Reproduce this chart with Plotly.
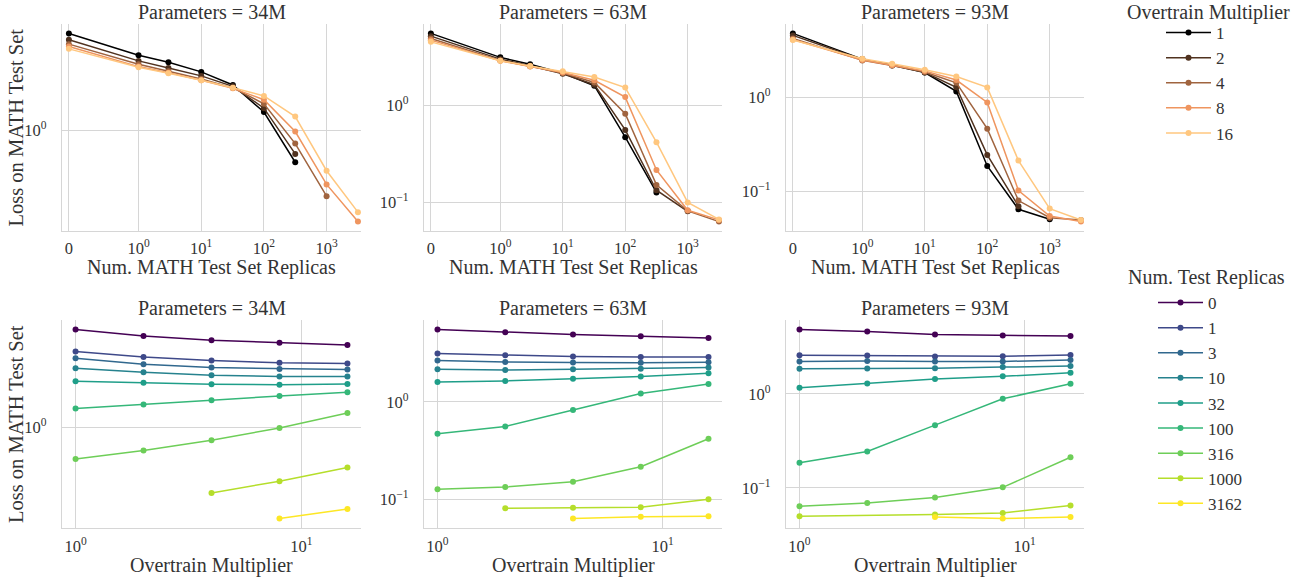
import numpy as np
import plotly.graph_objects as go

# ---------------------------------------------------------------- data
param_labels = ["34M", "63M", "93M"]
overtrain_multipliers = [1, 2, 4, 8, 16]
num_replicas = [0, 1, 3, 10, 32, 100, 316, 1000, 3162]

# loss on the MATH test set; one row per overtrain multiplier,
# one column per number of test-set replicas (None = not run)
loss_34m = [
    [7.30, 4.67, 4.05, 3.32, 2.54, 1.46, 0.522, None, None],
    [6.40, 4.16, 3.60, 3.06, 2.47, 1.58, 0.619, None, None],
    [5.86, 3.88, 3.36, 2.87, 2.39, 1.73, 0.765, 0.261, None],
    [5.58, 3.70, 3.27, 2.80, 2.37, 1.88, 0.980, 0.332, 0.155],
    [5.32, 3.65, 3.23, 2.80, 2.40, 2.03, 1.33, 0.439, 0.188],
]
loss_63m = [
    [5.55, 3.14, 2.66, 2.16, 1.60, 0.471, 0.1265, None, None],
    [5.20, 3.01, 2.57, 2.13, 1.64, 0.559, 0.1332, 0.0807, None],
    [4.92, 2.92, 2.54, 2.16, 1.73, 0.823, 0.1513, 0.0816, 0.0632],
    [4.73, 2.89, 2.52, 2.19, 1.82, 1.22, 0.2158, 0.0826, 0.0658],
    [4.54, 2.90, 2.55, 2.25, 1.97, 1.53, 0.418, 0.0996, 0.0666],
]
loss_93m = [
    [4.86, 2.58, 2.21, 1.855, 1.165, 0.1855, 0.0638, 0.0498, None],
    [4.63, 2.56, 2.24, 1.86, 1.29, 0.2434, 0.0688, None, None],
    [4.30, 2.50, 2.21, 1.88, 1.44, 0.465, 0.0791, 0.0519, 0.0490],
    [4.19, 2.52, 2.22, 1.93, 1.54, 0.887, 0.1012, 0.0541, 0.0471],
    [4.13, 2.60, 2.30, 1.98, 1.68, 1.285, 0.2117, 0.0649, 0.0490],
]
losses = [loss_34m, loss_63m, loss_93m]

replica_ticks = [0, 1, 10, 100, 1000]
replica_tick_text = ["0", "10<sup>0</sup>", "10<sup>1</sup>", "10<sup>2</sup>", "10<sup>3</sup>"]
loss_ticks = [0.01, 0.1, 1, 10]
loss_tick_text = ["10<sup>−2</sup>", "10<sup>−1</sup>", "10<sup>0</sup>", "10<sup>1</sup>"]
mult_ticks = [1, 10]
mult_tick_text = ["10<sup>0</sup>", "10<sup>1</sup>"]

# ---------------------------------------------------------------- style
copper = ["#000000", "#50321f", "#a0643f", "#ef955f", "#ffc77f"]
viridis = ["#440154", "#3e4989", "#31688e", "#26828e", "#1f9e89",
           "#35b779", "#6ece58", "#b5de2b", "#fde725"]
FONT = "Liberation Serif"
TXT = "#333333"
GRID = "#d6d6d6"
FS = 20
TICK_FS = 16.5
W, H = 1294, 577


def symlog(v, linthresh=1.0, base=10.0, linscale=1.0):
    """Symmetric log transform (linear below linthresh)."""
    v = np.asarray(v, dtype=float)
    adj = linscale / (1.0 - 1.0 / base)
    out = np.where(np.abs(v) <= linthresh, v * adj,
                   np.sign(v) * linthresh * (adj + np.log(np.maximum(np.abs(v), 1e-12) / linthresh) / np.log(base)))
    return out


# panel placement in pixels
col_px = [(62, 361), (424, 722), (786, 1084)]
row_px = [(24, 231), (320, 528)]
xtitle_y = [267, 565]


def xdom(c):
    return [col_px[c][0] / W, col_px[c][1] / W]


def ydom(r):
    return [1 - row_px[r][1] / H, 1 - row_px[r][0] / H]


fig = go.Figure()
layout = {}

for m, loss in enumerate(losses):
    arr = np.array([[np.nan if v is None else v for v in row] for row in loss])
    lo, hi = np.log10(np.nanmin(arr)), np.log10(np.nanmax(arr))
    pad = 0.05 * (hi - lo)
    yrange = [lo - pad, hi + pad]

    # top row: loss vs number of replicas, one line per overtrain multiplier
    ax_top = m + 1
    for i, mult in enumerate(overtrain_multipliers):
        pts = [(r, v) for r, v in zip(num_replicas, loss[i]) if v is not None]
        xs = [p[0] for p in pts]
        ys = [p[1] for p in pts]
        fig.add_trace(go.Scatter(
            x=symlog(xs), y=ys, customdata=xs, mode="lines+markers",
            line=dict(color=copper[i], width=1.5),
            marker=dict(color=copper[i], size=6),
            name=str(mult), legendgroup=f"m{mult}", legend="legend",
            showlegend=(m == 0),
            xaxis=f"x{ax_top}", yaxis=f"y{ax_top}",
            hovertemplate="replicas=%{customdata}<br>loss=%{y}<extra></extra>",
        ))

    # bottom row: loss vs overtrain multiplier, one line per replica count
    ax_bot = m + 4
    for j, rep in enumerate(num_replicas):
        pts = [(mult, loss[i][j]) for i, mult in enumerate(overtrain_multipliers)
               if loss[i][j] is not None]
        xs = [p[0] for p in pts]
        ys = [p[1] for p in pts]
        fig.add_trace(go.Scatter(
            x=xs, y=ys, mode="lines+markers",
            line=dict(color=viridis[j], width=1.5),
            marker=dict(color=viridis[j], size=6),
            name=str(rep), legendgroup=f"r{rep}", legend="legend2",
            showlegend=(m == 0),
            xaxis=f"x{ax_bot}", yaxis=f"y{ax_bot}",
        ))

    common = dict(showgrid=True, gridcolor=GRID, gridwidth=1, zeroline=False,
                  showline=True, linecolor=GRID, linewidth=1.2, ticks="",
                  tickfont=dict(family=FONT, size=TICK_FS, color=TXT),
                  mirror=False)

    for r, ax in ((0, ax_top), (1, ax_bot)):
        ykey = "yaxis" if ax == 1 else f"yaxis{ax}"
        xkey = "xaxis" if ax == 1 else f"xaxis{ax}"
        layout[ykey] = dict(common, type="log", range=yrange, domain=ydom(r),
                            anchor=f"x{ax}", tickmode="array",
                            tickvals=loss_ticks, ticktext=loss_tick_text,
                            ticklabelstandoff=11)
        if r == 0:
            layout[xkey] = dict(common, type="linear", range=[-0.11, 4.66],
                                domain=xdom(m), anchor=f"y{ax}", tickmode="array",
                                tickvals=symlog(replica_ticks).tolist(),
                                ticktext=replica_tick_text, ticklabelstandoff=2)
        else:
            layout[xkey] = dict(common, type="log",
                                range=[np.log10(1) - 0.06, np.log10(16) + 0.06],
                                domain=xdom(m), anchor=f"y{ax}", tickmode="array",
                                tickvals=mult_ticks, ticktext=mult_tick_text,
                                ticklabelstandoff=3)

txt_font = dict(family=FONT, size=FS, color=TXT)
annotations = []
for m, lab in enumerate(param_labels):
    cx = (col_px[m][0] + col_px[m][1]) / 2 / W
    for r in range(2):
        # panel title
        annotations.append(dict(
            text=f"Parameters = {lab}", x=cx, xref="paper", xanchor="center",
            y=ydom(r)[1], yref="paper", yanchor="bottom", yshift=-1,
            showarrow=False, font=txt_font))
        # x-axis title
        annotations.append(dict(
            text="Num. MATH Test Set Replicas" if r == 0 else "Overtrain Multiplier",
            x=cx, xref="paper", xanchor="center",
            y=1 - xtitle_y[r] / H, yref="paper", yanchor="middle",
            showarrow=False, font=txt_font))

# y-axis titles on the first column
for r in range(2):
    annotations.append(dict(
        text="Loss on MATH Test Set", textangle=-90,
        x=16 / W, xref="paper", xanchor="center",
        y=sum(ydom(r)) / 2, yref="paper", yanchor="middle",
        showarrow=False, font=dict(family=FONT, size=20.5, color=TXT)))

# legend headings
for text, cx, cy in (("Overtrain Multiplier", 1208, 12),
                     ("Num. Test Replicas", 1206, 278)):
    annotations.append(dict(
        text=text, x=cx / W, xref="paper", xanchor="center",
        y=1 - cy / H, yref="paper", yanchor="middle",
        showarrow=False, font=txt_font))

legend_font = dict(family=FONT, size=17, color=TXT)
fig.update_layout(
    width=W, height=577,
    margin=dict(l=0, r=0, t=0, b=0),
    paper_bgcolor="white", plot_bgcolor="white",
    font=txt_font,
    annotations=annotations,
    legend=dict(font=legend_font, x=1161 / W, xanchor="left",
                y=1 - 15 / H, yanchor="top", bgcolor="rgba(0,0,0,0)",
                tracegroupgap=0, itemwidth=45),
    legend2=dict(font=legend_font, x=1153 / W, xanchor="left",
                 y=1 - 285 / H, yanchor="top", bgcolor="rgba(0,0,0,0)",
                 tracegroupgap=0, itemwidth=45),
    **layout,
)

fig.write_html("out.html")
